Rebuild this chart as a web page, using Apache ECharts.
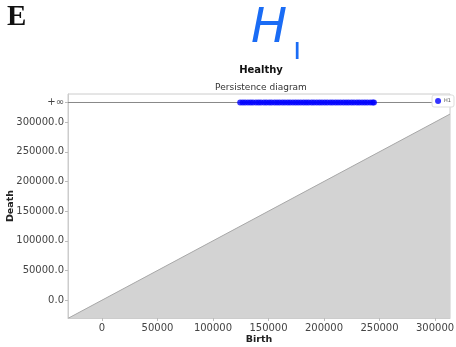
<!DOCTYPE html>
<html><head><meta charset="utf-8">
<script src="https://cdn.jsdelivr.net/npm/echarts@6/dist/echarts.min.js"></script>
<style>html,body{margin:0;padding:0;background:#fff}#c{width:456px;height:347px}</style>
</head><body><div id="c"></div>
<script>
const xTicks = [0, 50000, 100000, 150000, 200000, 250000, 300000];
const yTicks = [0, 50000, 100000, 150000, 200000, 250000, 300000];
const infValue = 333000;
const infLabel = '+\u221e';
const h1Births = [124500, 126800, 129000, 131500, 133800, 136000, 138700, 141000, 143200, 145900, 148100, 150600, 152800, 155400, 157700, 160000, 162500, 164800, 167300, 169500, 172000, 174400, 176700, 179100, 181600, 183900, 186200, 188800, 191000, 193500, 195900, 198200, 200700, 203000, 205600, 207800, 210300, 212600, 215000, 217500, 219900, 222200, 224700, 227000, 229600, 231800, 234300, 236700, 239000, 241600, 243800, 245000];
const axisMin = -30600, axisMax = 313500, yMin = -30000, yMax = 347300;

const chart = echarts.init(document.getElementById('c'));
const tf = 'DejaVu Sans';
chart.setOption({
  animation: false,
  title: [
    {text: 'Healthy', left: 256, top: 60, textAlign: 'center', textStyle: {fontFamily: tf, fontSize: 10, fontWeight: 'bold', color: '#111'}},
    {text: 'Persistence diagram', left: 256, top: 78, textAlign: 'center', textStyle: {fontFamily: tf, fontSize: 9, fontWeight: 'normal', color: '#333'}}
  ],
  graphic: [
    {type: 'text', left: 7, top: 3, style: {text: 'E', font: 'bold 29px "Liberation Serif", serif', fill: '#111'}},
    {type: 'text', left: 251, top: 6, style: {text: 'H', font: 'italic normal 48px "DejaVu Sans", sans-serif', fill: '#1a6cf5'}},
    {type: 'text', left: 293, top: 36, style: {text: '\u0131', font: 'normal 30px "DejaVu Sans", sans-serif', fill: '#1a6cf5'}}
  ],
  legend: {
    right: 2, top: 95, itemWidth: 6, itemHeight: 6, itemGap: 2, padding: [3, 3, 3, 3],
    backgroundColor: '#fff', borderColor: '#ddd', borderWidth: 1, borderRadius: 2,
    data: [{name: 'H1', icon: 'circle'}],
    textStyle: {fontFamily: tf, fontSize: 5, color: '#555', padding: [0, 0, 0, -2]}
  },
  grid: {left: 68, right: 6, top: 94, bottom: 29, show: true, borderColor: '#ccc', borderWidth: 1, backgroundColor: 'transparent', outerBoundsMode: 'none', containLabel: false},
  xAxis: {
    type: 'value', min: axisMin, max: axisMax,
    name: 'Birth', nameLocation: 'middle', nameGap: 17, nameMoveOverlap: false,
    nameTextStyle: {fontFamily: tf, fontSize: 9.5, fontWeight: 'bold', color: '#222'},
    splitLine: {show: false},
    axisLine: {show: true, onZero: false, lineStyle: {color: '#ccc'}},
    axisTick: {show: true, length: 3, lineStyle: {color: '#bbb'}, customValues: xTicks},
    axisLabel: {fontFamily: tf, fontSize: 10, color: '#444', margin: 5, customValues: xTicks, formatter: v => String(v)}
  },
  yAxis: {
    type: 'value', min: yMin, max: yMax,
    name: 'Death', nameLocation: 'middle', nameGap: 52, nameRotate: 90, nameMoveOverlap: false,
    nameTextStyle: {fontFamily: tf, fontSize: 9.5, fontWeight: 'bold', color: '#222'},
    splitLine: {show: false},
    axisLine: {show: true, onZero: false, lineStyle: {color: '#ccc'}},
    axisTick: {show: true, length: 3, lineStyle: {color: '#bbb'}, customValues: yTicks.concat([infValue])},
    axisLabel: {fontFamily: tf, fontSize: 10, color: '#444', margin: 4, customValues: yTicks.concat([infValue]),
      formatter: v => v === infValue ? infLabel : v.toFixed(1)}
  },
  series: [
    {type: 'line', data: [[axisMin, axisMin], [axisMax, axisMax]], symbol: 'none', silent: true,
      lineStyle: {color: '#a8a8a8', width: 1}, areaStyle: {color: '#d3d3d3', opacity: 1, origin: 'start'}, z: 1},
    {type: 'line', data: [[axisMin, infValue], [axisMax, infValue]], symbol: 'none', silent: true,
      lineStyle: {color: '#888', width: 1}, z: 2},
    {name: 'H1', type: 'scatter', data: h1Births.map(b => [b, infValue]), symbolSize: 6,
      itemStyle: {color: '#0000ff'}, z: 3}
  ]
});
</script></body></html>
